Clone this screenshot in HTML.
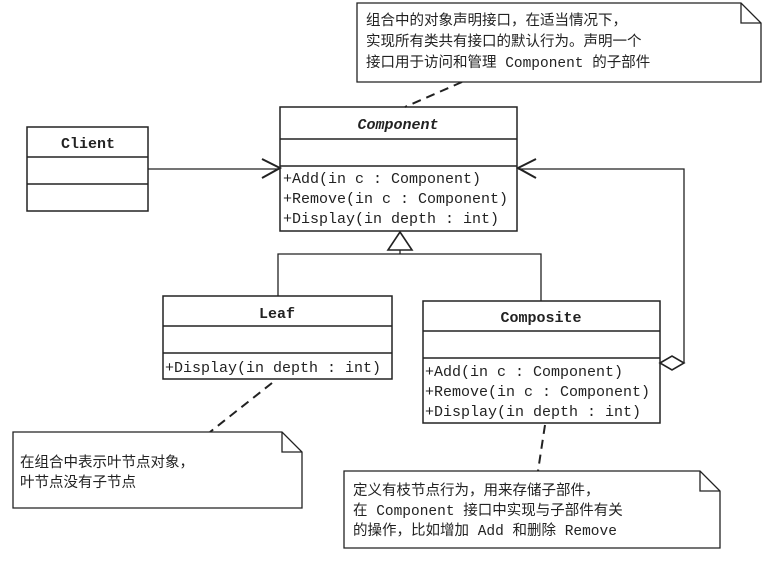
<!DOCTYPE html>
<html><head><meta charset="utf-8"><style>
html,body{margin:0;padding:0;background:#fff;}
svg{display:block;}
.m{font-family:"Liberation Mono","Noto Sans CJK SC",monospace;font-size:15px;fill:#222;}
.c{font-family:"Liberation Mono","Noto Sans CJK SC",monospace;font-size:14.5px;fill:#222;}
</style></head><body>
<svg width="772" height="566" viewBox="0 0 772 566" xmlns="http://www.w3.org/2000/svg">
<g fill="#fff" stroke="#222" stroke-width="1.5">
<rect x="27" y="127" width="121" height="84"/>
<line x1="27" y1="157" x2="148" y2="157"/>
<line x1="27" y1="184" x2="148" y2="184"/>
<rect x="280" y="107" width="237" height="124"/>
<line x1="280" y1="139" x2="517" y2="139"/>
<line x1="280" y1="166" x2="517" y2="166"/>
<rect x="163" y="296" width="229" height="83"/>
<line x1="163" y1="326" x2="392" y2="326"/>
<line x1="163" y1="353" x2="392" y2="353"/>
<rect x="423" y="301" width="237" height="122"/>
<line x1="423" y1="331" x2="660" y2="331"/>
<line x1="423" y1="358" x2="660" y2="358"/>
</g>
<g fill="none" stroke="#222" stroke-width="1.3">
<line x1="148" y1="169" x2="279" y2="169"/>
<polyline points="262,159 280,168 262,178" stroke-width="2"/>
<polyline points="684,363 684,169 518,169"/>
<polyline points="536,159 518,168 536,178" stroke-width="2"/>
<polygon points="660,363 672,356 684,363 672,370" fill="#fff" stroke-width="1.6"/>
<polygon points="400,232 388,250 412,250" fill="#fff" stroke-width="1.6"/>
<line x1="400" y1="250" x2="400" y2="254"/>
<polyline points="278,296 278,254 541,254 541,301"/>
<g stroke-dasharray="9,6" stroke-width="2">
<line x1="462" y1="82" x2="405" y2="107"/>
<line x1="272" y1="383" x2="210" y2="432"/>
<line x1="545" y1="425" x2="538" y2="471"/>
</g>
<path d="M357,3 H741 L761,23 V82 H357 Z" fill="#fff"/>
<polyline points="741,3 741,23 761,23"/>
<path d="M13,432 H282 L302,452 V508 H13 Z" fill="#fff"/>
<polyline points="282,432 282,452 302,452"/>
<path d="M344,471 H700 L720,491 V548 H344 Z" fill="#fff"/>
<polyline points="700,471 700,491 720,491"/>
</g>
<g class="m">
<text x="88" y="148" text-anchor="middle" font-weight="bold">Client</text>
<text x="398" y="129" text-anchor="middle" font-weight="bold" font-style="italic">Component</text>
<text x="283" y="183">+Add(in c : Component)</text>
<text x="283" y="203">+Remove(in c : Component)</text>
<text x="283" y="223">+Display(in depth : int)</text>
<text x="277" y="318" text-anchor="middle" font-weight="bold">Leaf</text>
<text x="165" y="372">+Display(in depth : int)</text>
<text x="541" y="322" text-anchor="middle" font-weight="bold">Composite</text>
<text x="425" y="376">+Add(in c : Component)</text>
<text x="425" y="396">+Remove(in c : Component)</text>
<text x="425" y="416">+Display(in depth : int)</text>
</g>
<g class="c">
<text x="366" y="25">组合中的对象声明接口，在适当情况下，</text>
<text x="366" y="46">实现所有类共有接口的默认行为。声明一个</text>
<text x="366" y="67">接口用于访问和管理 Component 的子部件</text>
<text x="20" y="467">在组合中表示叶节点对象，</text>
<text x="20" y="487">叶节点没有子节点</text>
<text x="353" y="495">定义有枝节点行为，用来存储子部件，</text>
<text x="353" y="515">在 Component 接口中实现与子部件有关</text>
<text x="353" y="535">的操作，比如增加 Add 和删除 Remove</text>
</g>
</svg>
</body></html>
